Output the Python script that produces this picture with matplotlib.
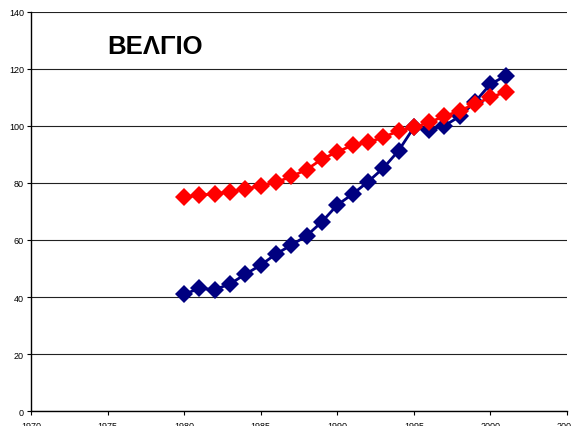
import matplotlib
matplotlib.use("Agg")
import matplotlib.pyplot as plt

# years and index values for the two series
years = list(range(1980, 2002))
blue_vals = [41.0, 43.0, 42.6, 44.6, 48.0, 51.2, 55.1, 58.2, 61.5, 66.4, 72.3, 76.1,
             80.4, 85.2, 91.3, 99.5, 98.7, 100.1, 103.4, 108.5, 114.7, 117.6]
red_vals = [75.0, 75.8, 76.1, 77.0, 77.9, 79.0, 80.2, 82.3, 84.7, 88.4, 90.9, 93.3,
            94.3, 96.0, 98.3, 99.5, 101.3, 103.4, 105.4, 107.7, 110.0, 112.0]
x_ticks = [1970, 1975, 1980, 1985, 1990, 1995, 2000, 2005]
y_ticks = [0, 20, 40, 60, 80, 100, 120, 140]
title = "ΒΕΛΓΙΟ"

plt.rcParams['font.family'] = ['Liberation Sans', 'DejaVu Sans']

fig = plt.figure(figsize=(5.71, 4.27), dpi=100)
ax = fig.add_axes([0.0543, 0.0351, 0.9387, 0.9345])

ax.plot(years, blue_vals, color="#000080", lw=2, marker="D", ms=9,
        markeredgewidth=0, zorder=3)
ax.plot(years, red_vals, color="#FF0000", lw=2, marker="D", ms=9,
        markeredgewidth=0, zorder=4)

ax.set_xlim(1970, 2005)
ax.set_ylim(0, 140)
ax.set_xticks(x_ticks)
ax.set_yticks(y_ticks)
ax.tick_params(axis="y", labelsize=6.5, length=3, width=0.8, direction="out", pad=2)
ax.tick_params(axis="x", labelsize=6.5, length=3, width=0.8, direction="out", pad=4)
ax.yaxis.grid(True, color="#222222", lw=0.8)
ax.set_axisbelow(True)

for side in ["top", "right"]:
    ax.spines[side].set_visible(False)
ax.spines["left"].set_linewidth(1)
ax.spines["bottom"].set_linewidth(1)

ax.text(1975.0, 128.0, title, fontsize=18.5, fontweight="bold", ha="left", va="center")

fig.savefig("out.png", dpi=100)
